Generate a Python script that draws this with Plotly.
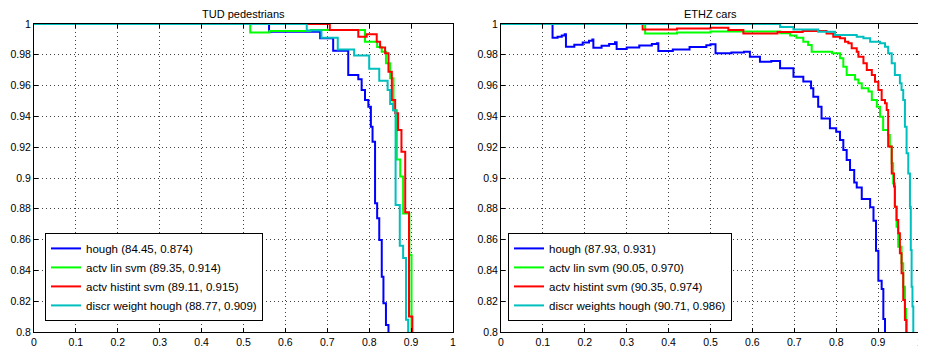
import plotly.graph_objects as go

# ---------------- axis ticks ----------------
x_ticks = [0.0, 0.1, 0.2, 0.3, 0.4, 0.5, 0.6, 0.7, 0.8, 0.9, 1.0]
x_tick_labels = ["0", "0.1", "0.2", "0.3", "0.4", "0.5", "0.6", "0.7", "0.8", "0.9", "1"]
y_ticks = [0.8, 0.82, 0.84, 0.86, 0.88, 0.9, 0.92, 0.94, 0.96, 0.98, 1.0]
y_tick_labels = ["0.8", "0.82", "0.84", "0.86", "0.88", "0.9", "0.92", "0.94", "0.96", "0.98", "1"]

titles = ["TUD pedestrians", "ETHZ cars"]
colors = ["#0000ff", "#00ff00", "#ff0000", "#00bfbf"]

tud_labels = ["hough (84.45, 0.874)", "actv lin svm (89.35, 0.914)",
              "actv histint svm (89.11, 0.915)", "discr weight hough (88.77, 0.909)"]
ethz_labels = ["hough (87.93, 0.931)", "actv lin svm (90.05, 0.970)",
               "actv histint svm (90.35, 0.974)", "discr weights hough (90.71, 0.986)"]

# ---------------- TUD pedestrians (recall, precision step points) ----------------
tud_hough_recall = [0, 0.561, 0.683, 0.714, 0.750, 0.774, 0.782, 0.790, 0.798, 0.804, 0.808,
                    0.814, 0.819, 0.824, 0.830, 0.834, 0.840, 0.846]
tud_hough_precision = [1, 0.995, 0.9907, 0.9827, 0.9669, 0.9641, 0.9571, 0.9506, 0.9463, 0.9333, 0.9236,
                       0.8836, 0.8738, 0.8597, 0.8359, 0.8186, 0.8045, 0.79]

tud_lin_recall = [0, 0.516, 0.562, 0.66, 0.790, 0.819, 0.830, 0.840, 0.850, 0.858, 0.866,
                  0.874, 0.881, 0.896, 0.901]
tud_lin_precision = [1, 0.9944, 0.9955, 0.9961, 0.9885, 0.985, 0.982, 0.9745, 0.9647, 0.944, 0.912,
                     0.901, 0.877, 0.850, 0.79]

tud_hist_recall = [0, 0.706, 0.774, 0.794, 0.818, 0.826, 0.838, 0.846, 0.854, 0.862, 0.869,
                   0.877, 0.886, 0.895, 0.903]
tud_hist_precision = [1, 0.9961, 0.9918, 0.9933, 0.9885, 0.9848, 0.981, 0.969, 0.9506, 0.942, 0.9312,
                      0.9171, 0.8777, 0.810, 0.79]

tud_discr_recall = [0, 0.651, 0.686, 0.725, 0.764, 0.800, 0.824, 0.844, 0.850, 0.857, 0.863,
                    0.873, 0.881, 0.888, 0.893]
tud_discr_precision = [1, 0.9957, 0.991, 0.9835, 0.9795, 0.971, 0.9632, 0.9571, 0.948, 0.944, 0.8825,
                       0.856, 0.848, 0.808, 0.79]

# ---------------- ETHZ cars ----------------
ethz_hough_recall = [0, 0.123, 0.135, 0.145, 0.152, 0.155, 0.175, 0.195, 0.21, 0.218, 0.2204,
                     0.24, 0.258, 0.272, 0.276, 0.30, 0.33, 0.36, 0.372, 0.3755,
                     0.41, 0.45, 0.49, 0.50, 0.512, 0.55, 0.58, 0.594, 0.618, 0.645, 0.666,
                     0.698, 0.7215, 0.74, 0.7454, 0.757, 0.765, 0.785, 0.80, 0.809, 0.817,
                     0.825, 0.833, 0.843, 0.849, 0.861, 0.881, 0.889, 0.895, 0.9006, 0.9085,
                     0.9125, 0.9165]
ethz_hough_precision = [1, 0.9911, 0.9918, 0.9926, 0.9933, 0.9853, 0.9866, 0.988, 0.9892, 0.990, 0.9846,
                        0.9858, 0.987, 0.9881, 0.9838, 0.9848, 0.986, 0.987, 0.9875, 0.9825,
                        0.9835, 0.985, 0.9862, 0.9868, 0.981, 0.9815, 0.982, 0.9788, 0.9755, 0.976, 0.9712,
                        0.9658, 0.9626, 0.9582, 0.9528, 0.9463, 0.9387, 0.9323, 0.9301, 0.9247, 0.9182,
                        0.9117, 0.9052, 0.897, 0.8939, 0.8864, 0.881, 0.8723, 0.8528, 0.8333, 0.8279,
                        0.8084, 0.79]

ethz_lin_recall = [0, 0.344, 0.42, 0.50, 0.666, 0.69, 0.705, 0.7215, 0.733, 0.7415, 0.79,
                   0.809, 0.817, 0.825, 0.845, 0.853, 0.861, 0.877, 0.885, 0.897, 0.9045,
                   0.912, 0.924, 0.928, 0.9325, 0.936, 0.940, 0.944, 0.948, 0.956, 0.960,
                   0.964, 0.9666]
ethz_lin_precision = [1, 0.9939, 0.9945, 0.9952, 0.994, 0.9925, 0.991, 0.9885, 0.9864, 0.982, 0.981,
                      0.9777, 0.9723, 0.9669, 0.964, 0.9615, 0.9582, 0.9561, 0.9506, 0.9463, 0.9398,
                      0.9312, 0.9279, 0.9204, 0.9095, 0.8965, 0.8814, 0.8684, 0.8554, 0.8446, 0.8294,
                      0.815, 0.79]

ethz_hist_recall = [0, 0.338, 0.42, 0.50, 0.5426, 0.5784, 0.66, 0.72, 0.777, 0.793, 0.809,
                    0.821, 0.829, 0.837, 0.849, 0.853, 0.865, 0.873, 0.885, 0.8926, 0.9006,
                    0.9085, 0.9165, 0.9205, 0.924, 0.9325, 0.938, 0.940, 0.944, 0.948, 0.952,
                    0.956, 0.960, 0.964, 0.968]
ethz_hist_precision = [1, 0.9965, 0.997, 0.9976, 0.9961, 0.9939, 0.9948, 0.9955, 0.9939, 0.9918, 0.9907,
                       0.9885, 0.9875, 0.9842, 0.982, 0.9788, 0.9745, 0.9701, 0.9669, 0.9625, 0.9571,
                       0.9506, 0.9485, 0.9442, 0.9204, 0.903, 0.8944, 0.8814, 0.8727, 0.8641, 0.8511,
                       0.8381, 0.8208, 0.8078, 0.79]

ethz_discr_recall = [0, 0.666, 0.698, 0.757, 0.797, 0.849, 0.865, 0.881, 0.9045, 0.9165, 0.924,
                     0.9325, 0.940, 0.952, 0.956, 0.960, 0.964, 0.968, 0.972, 0.976, 0.978,
                     0.980, 0.982, 0.984]
ethz_discr_precision = [1, 0.998, 0.9965, 0.995, 0.9929, 0.9918, 0.9907, 0.9885, 0.9875, 0.9853, 0.981,
                        0.9745, 0.9669, 0.9615, 0.9571, 0.9506, 0.9333, 0.916, 0.903, 0.8814, 0.8533,
                        0.8294, 0.8165, 0.79]

tud_series = [(tud_hough_recall, tud_hough_precision), (tud_lin_recall, tud_lin_precision),
              (tud_hist_recall, tud_hist_precision), (tud_discr_recall, tud_discr_precision)]
ethz_series = [(ethz_hough_recall, ethz_hough_precision), (ethz_lin_recall, ethz_lin_precision),
               (ethz_hist_recall, ethz_hist_precision), (ethz_discr_recall, ethz_discr_precision)]

FONT = "Liberation Sans, Arial, Helvetica, sans-serif"

fig = go.Figure()
for (r, p), name, c in zip(tud_series, tud_labels, colors):
    fig.add_trace(go.Scatter(x=r, y=p, mode="lines", name=name, line=dict(color=c, width=2, shape="hv"),
                             xaxis="x", yaxis="y", legend="legend"))
for (r, p), name, c in zip(ethz_series, ethz_labels, colors):
    fig.add_trace(go.Scatter(x=r, y=p, mode="lines", name=name, line=dict(color=c, width=2, shape="hv"),
                             xaxis="x2", yaxis="y2", legend="legend2"))

axis_common = dict(showline=True, linecolor="black", linewidth=1, mirror="ticks",
                   ticks="inside", ticklen=4, tickcolor="black", tickwidth=1,
                   showgrid=True, gridcolor="rgba(0,0,0,0.75)", griddash="1px,3px", gridwidth=1,
                   zeroline=False, automargin=False,
                   tickfont=dict(family=FONT, size=10.5, color="black"))

x_axis = dict(axis_common, range=[0, 1], tickmode="array", tickvals=x_ticks, ticktext=x_tick_labels)
y_axis = dict(axis_common, range=[0.8, 1], tickmode="array", tickvals=y_ticks, ticktext=y_tick_labels)

legend_common = dict(xanchor="left", yanchor="bottom", bgcolor="white", bordercolor="black",
                     borderwidth=1, font=dict(family=FONT, size=11.5, color="black"),
                     tracegroupgap=0, traceorder="normal")

# page body adds an 8px margin, so the figure is 8px smaller than the window
fig.update_layout(
    width=918, height=340,
    margin=dict(l=26, r=6, t=16, b=16),
    paper_bgcolor="white", plot_bgcolor="white",
    font=dict(family=FONT, color="black"),
    xaxis=dict(x_axis, domain=[0, 0.4729], anchor="y"),
    yaxis=dict(y_axis, anchor="x"),
    xaxis2=dict(x_axis, domain=[0.5271, 1], anchor="y2"),
    yaxis2=dict(y_axis, anchor="x2"),
    legend=dict(legend_common, x=0.0124, y=0.036),
    legend2=dict(legend_common, x=0.535, y=0.036),
    annotations=[
        dict(text=titles[0], xref="x domain", yref="y domain", x=0.5, y=1, xanchor="center",
             yanchor="bottom", yshift=2, showarrow=False, font=dict(family=FONT, size=11, color="black")),
        dict(text=titles[1], xref="x2 domain", yref="y2 domain", x=0.5, y=1, xanchor="center",
             yanchor="bottom", yshift=2, showarrow=False, font=dict(family=FONT, size=11, color="black")),
    ],
    showlegend=True,
)

fig.write_html("out.html")
